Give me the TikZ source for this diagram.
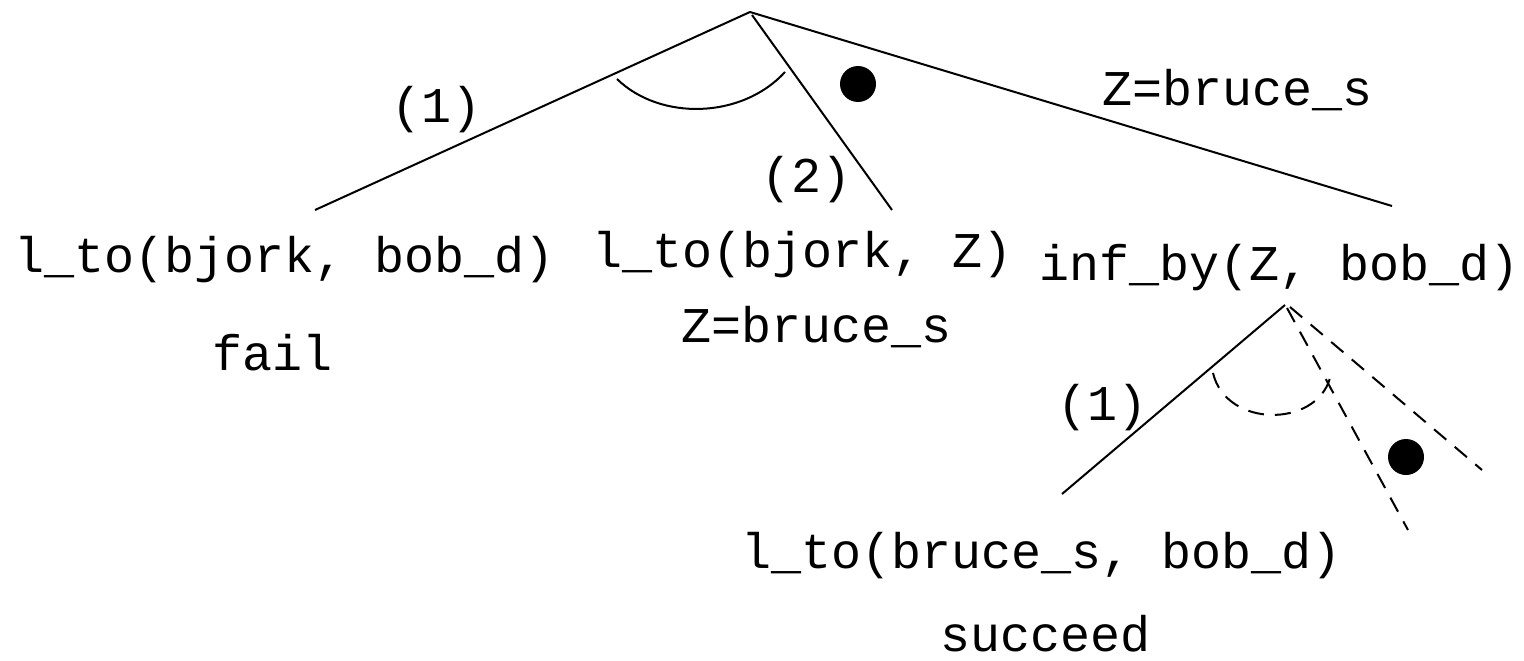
\documentclass[tikz,border=0pt]{standalone}
\usepackage{fontspec}
\setmonofont{Liberation Mono}
\begin{document}
\begin{tikzpicture}[x=1pt,y=-1pt,
  lbl/.style={inner sep=0pt,anchor=base,font=\ttfamily\fontsize{50}{60}\selectfont},
  edge/.style={line width=2pt},
  dedge/.style={line width=2pt,dash pattern=on 16pt off 11pt},
  dot/.style={circle,fill=black,inner sep=0pt,minimum size=36pt}]
\useasboundingbox (0,0) rectangle (1524,661);
% top tree
\coordinate (r) at (750,12);
\coordinate (r2) at (752,15);
\coordinate (e1) at (315,210);
\coordinate (e2) at (892,210);
\coordinate (e3) at (1392,206);
\draw[edge] (r) -- (e1);
\draw[edge] (r2) -- (e2);
\draw[edge] (r) -- (e3);
\coordinate (a1) at (617,79);
\coordinate (a2) at (785,72);
\draw[edge] (a1) .. controls (660,121) and (742,119) .. (a2);
\node[dot] (d1) at (858,84) {};
\node[lbl] (l1) at (437,122) {(1)};
\node[lbl] (l2) at (806,192) {(2)};
\node[lbl] (zb1) at (1238,105) {Z=bruce\_s};
\node[lbl] (n1) at (285,272) {l\_to(bjork, bob\_d)};
\node[lbl] (f1) at (273,370) {fail};
\node[lbl] (n2) at (803,267) {l\_to(bjork, Z)};
\node[lbl] (zb2) at (817,342) {Z=bruce\_s};
\node[lbl] (n3) at (1280,280) {inf\_by(Z, bob\_d)};
% lower tree
\coordinate (s) at (1285,305);
\coordinate (s2) at (1287,308);
\coordinate (s3) at (1290,307);
\coordinate (g1) at (1062,494);
\coordinate (g2) at (1408,530);
\coordinate (g3) at (1482,470);
\draw[edge] (s) -- (g1);
\draw[dedge] (s2) -- (g2);
\draw[dedge] (s3) -- (g3);
\coordinate (b1) at (1213,373);
\coordinate (b2) at (1330,378);
\draw[dedge] (b1) .. controls (1226,428) and (1316,428) .. (b2);
\node[dot] (d2) at (1406,457) {};
\node[lbl] (l3) at (1102,420) {(1)};
\node[lbl] (n4) at (1042,568) {l\_to(bruce\_s, bob\_d)};
\node[lbl] (sc) at (1046,651) {succeed};
\end{tikzpicture}
\end{document}
